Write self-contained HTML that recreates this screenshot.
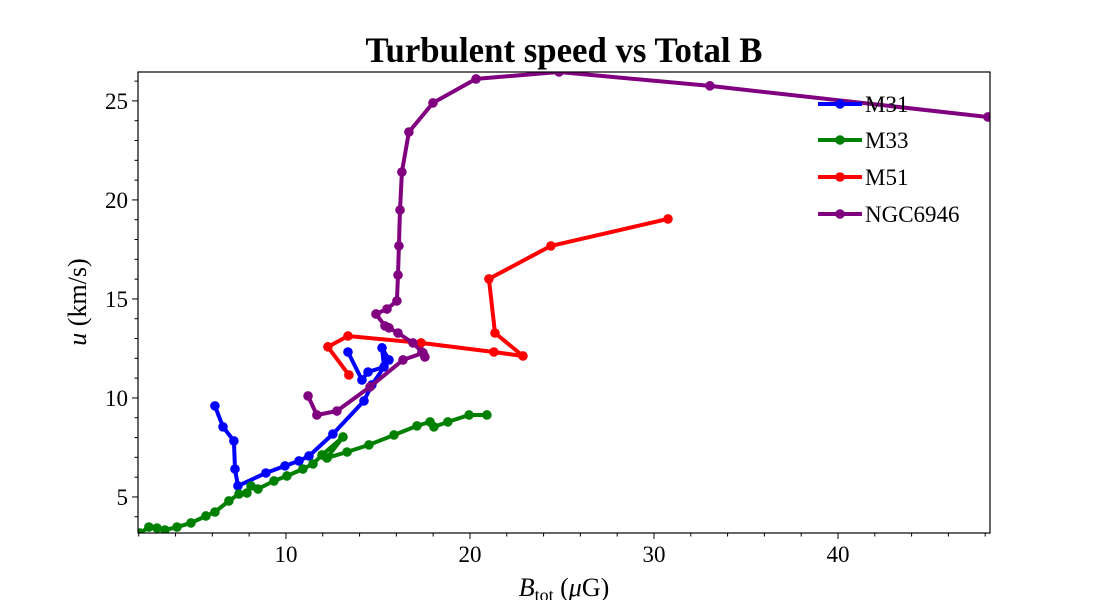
<!DOCTYPE html>
<html><head><meta charset="utf-8"><style>
html,body{margin:0;padding:0;background:#fff;}
svg text{font-family:"Liberation Serif",serif;}
</style></head><body>
<svg id="chart" width="1100" height="600" xmlns="http://www.w3.org/2000/svg"></svg>
<script>
const m31X=[6.14,6.58,7.17,7.23,7.39,8.91,9.95,10.71,11.25,12.55,14.24,14.67,15.60,15.22,15.33,14.46,14.13,13.37];
const m31Y=[9.60,8.54,7.83,6.41,5.56,6.21,6.57,6.82,7.07,8.18,9.85,10.66,11.92,12.53,11.57,11.31,10.91,12.32];
const m33X=[2.07,2.55,2.99,3.42,4.08,4.84,5.65,6.14,6.90,7.45,7.88,8.10,8.48,9.35,10.05,10.92,11.47,11.96,13.10,12.23,13.32,14.51,15.87,17.12,17.83,18.04,18.80,19.95,20.92];
const m33Y=[3.18,3.48,3.43,3.33,3.48,3.69,4.04,4.24,4.80,5.15,5.20,5.56,5.40,5.81,6.06,6.41,6.67,7.12,8.03,6.97,7.27,7.63,8.13,8.59,8.79,8.54,8.79,9.14,9.14];
const m51X=[30.76,24.40,21.03,21.36,22.88,21.30,17.34,13.37,12.28,13.42];
const m51Y=[19.04,17.68,16.01,13.28,12.12,12.32,12.78,13.13,12.58,11.16];
const ngcX=[48.15,33.04,24.84,20.33,17.99,16.68,16.30,16.20,16.14,16.09,16.03,15.49,14.89,15.38,15.60,16.09,16.90,17.39,17.55,17.45,16.36,14.57,12.77,11.68,11.20];
const ngcY=[24.19,25.76,26.46,26.11,24.90,23.43,21.41,19.49,17.68,16.21,14.90,14.49,14.24,13.64,13.54,13.28,12.78,12.32,12.07,12.27,11.92,10.56,9.34,9.14,10.10];
const xTicks=[10,20,30,40];
const yTicks=[5,10,15,20,25];
const seriesNames=["M31","M33","M51","NGC6946"];

const NS="http://www.w3.org/2000/svg";
const svg=document.getElementById('chart');
const L=138,R=990,T=72,B=533;
const xmin=1.96,xmax=48.26,ymin=3.18,ymax=26.46;
function sx(v){return L+(v-xmin)/(xmax-xmin)*(R-L);}
function sy(v){return B-(v-ymin)/(ymax-ymin)*(B-T);}
function mk(tag,attrs,parent){const e=document.createElementNS(NS,tag);for(const k in attrs)e.setAttribute(k,attrs[k]);(parent||svg).appendChild(e);return e;}

const defs=mk('defs',{});
const cp=mk('clipPath',{id:'clip'},defs);
mk('rect',{x:L,y:T,width:R-L,height:B-T},cp);

const plot=mk('g',{'clip-path':'url(#clip)'});


const colors=['#0000ff','#008000','#ff0000','#800080'];
const data=[[m31X,m31Y],[m33X,m33Y],[m51X,m51Y],[ngcX,ngcY]];
data.forEach((d,i)=>{
  const g=mk('g',{},plot);
  
  
  const pts=d[0].map((x,j)=>sx(x).toFixed(1)+','+sy(d[1][j]).toFixed(1)).join(' ');
  const pl=mk('polyline',{points:pts,fill:'none',stroke:colors[i],'stroke-width':4,'stroke-linejoin':'round','stroke-linecap':'square'},g);
  
  
  d[0].forEach((x,j)=>{
    const c=mk('circle',{cx:sx(x),cy:sy(d[1][j]),r:4.8,fill:colors[i]},g);
    
    
  });
});

const frame=mk('rect',{x:L,y:T,width:R-L,height:B-T,fill:'none',stroke:'#000','stroke-width':1.2});



for(let v=2;v<=48;v+=2){
  const px=sx(v);const major=v%10===0;
  mk('line',{x1:px,x2:px,y1:B,y2:B+(major?6:3.5),stroke:'#000','stroke-width':1});
}
xTicks.forEach(v=>{
  const t=mk('text',{x:sx(v),y:B+29,'text-anchor':'middle','font-size':23});
  t.textContent=v;
  
  
});
for(let v=4;v<=26;v+=1){
  const py=sy(v);const major=v%5===0;
  mk('line',{x1:L,x2:L-(major?6:3.5),y1:py,y2:py,stroke:'#000','stroke-width':1});
}
yTicks.forEach(v=>{
  const t=mk('text',{x:L-10,y:sy(v)+8,'text-anchor':'end','font-size':23});
  t.textContent=v;
  
  
});

const lg=mk('g',{});


const ly=[104,140,177,214];
seriesNames.forEach((n,i)=>{
  const e=mk('g',{},lg);
  
  
  mk('line',{x1:818,x2:862,y1:ly[i],y2:ly[i],stroke:colors[i],'stroke-width':4},e);
  mk('circle',{cx:840,cy:ly[i],r:4.8,fill:colors[i]},e);
  const t=mk('text',{x:865,y:ly[i]+8,'font-size':23},e);
  t.textContent=n;
});
</script>
<svg width="1100" height="600" style="position:absolute;left:0;top:0;pointer-events:none" xmlns="http://www.w3.org/2000/svg">
<text x="564" y="62" text-anchor="middle" font-size="36" font-weight="bold" textLength="397" lengthAdjust="spacingAndGlyphs">Turbulent speed vs Total B</text>
<text x="564" y="596" text-anchor="middle" font-size="26"><tspan font-style="italic">B</tspan><tspan font-size="18" dy="5">tot</tspan><tspan dy="-5"> (</tspan><tspan font-style="italic">μ</tspan>G)</text>
<text transform="translate(86,302) rotate(-90)" text-anchor="middle" font-size="26"><tspan font-style="italic">u</tspan> (km/s)</text>
</svg>
</body></html>
